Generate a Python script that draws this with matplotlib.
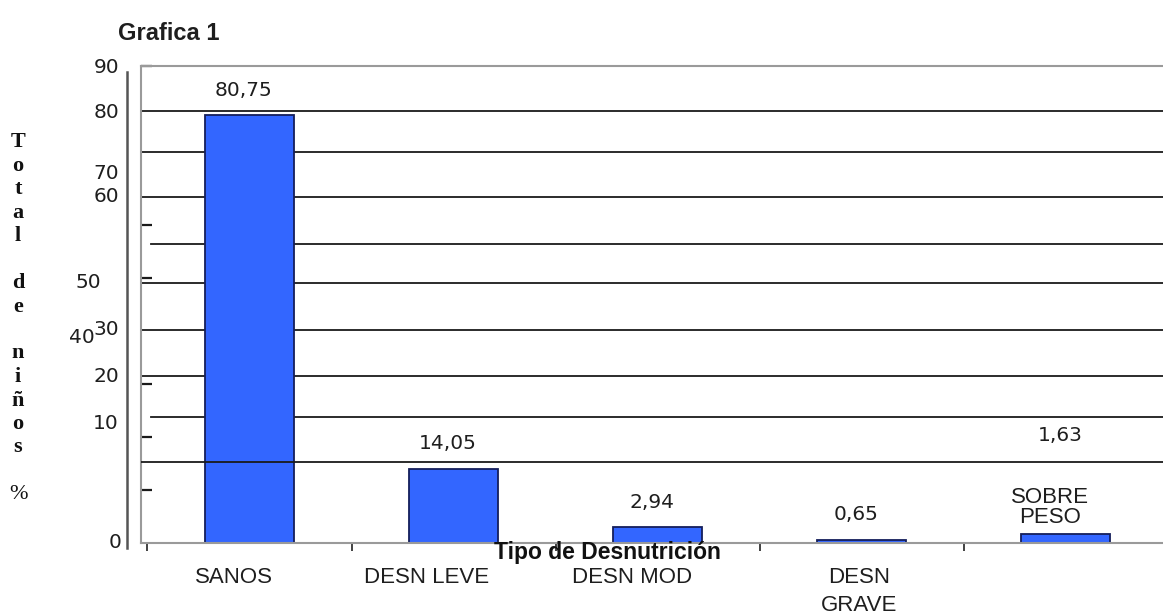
import numpy as np
import matplotlib
matplotlib.use("Agg")
import matplotlib.pyplot as plt
import matplotlib.transforms as mtransforms
from matplotlib.lines import Line2D

# ---------------- data ----------------
categories = ["SANOS", "DESN LEVE", "DESN MOD", "DESN\nGRAVE", "SOBRE\nPESO"]
values = [80.75, 14.05, 2.94, 0.65, 1.63]

# y-axis text labels as printed in the (garbled) original, and where they sit (data units)
ytick_texts = ["90", "80", "70", "60", "50", "40", "30", "20", "10", "0"]
ytick_text_y = [89.8, 81.3, 69.8, 65.3, 49.1, 38.7, 40.2, 31.5, 22.6, 0.0]
# short tick marks actually drawn on the axis
ytick_marks = [90, 60, 50, 30, 20, 10]
# horizontal rule lines as they appear in the original (data units)
grid_values = [81.5, 73.8, 65.3, 56.4, 49.1, 40.2, 31.5, 23.8, 15.3]
grid_short_start = [56.4, 23.8]
grid_over_bars = [15.3]

title = "Grafica 1"
xlabel = "Tipo de Desnutrición"
ylabel_letters = ["T", "o", "t", "a", "l", "", "d", "e", "", "n", "i", "ñ", "o", "s", "", "%"]

# ---------------- figure ----------------
W, H = 1163, 616
fig = plt.figure(figsize=(W / 100, H / 100), dpi=100)
fig.patch.set_facecolor("white")

ax_left, ax_right, ax_top, ax_bottom = 141, 1170, 66, 543
ax = fig.add_axes([ax_left / W, 1 - ax_bottom / H, (ax_right - ax_left) / W, (ax_bottom - ax_top) / H])
ax.set_facecolor("white")

cat_px0, cat_step = 249.5, 204.1
ax.set_xlim((ax_left - cat_px0) / cat_step, (ax_right - cat_px0) / cat_step)
ax.set_ylim(0, 90)

sans = ["Liberation Sans", "DejaVu Sans"]
nums = ["DejaVu Sans"]
serif = ["Liberation Serif", "DejaVu Serif"]
txtc = "#1e1e1e"

x = np.arange(len(categories))

# grid rules
short_frac = 10 / (ax_right - ax_left)
for g in grid_values:
    xmin = short_frac if g in grid_short_start else 0
    z = 3 if g in grid_over_bars else 0.5
    ax.axhline(g, xmin=xmin, xmax=1, color="#1a1a1a", lw=1.3, zorder=z)

# bars
ax.bar(x, values, width=0.436, color="#3366ff", edgecolor="#141e5a", linewidth=1.3, zorder=2)

# value labels
for i, v in enumerate(values):
    s = f"{v:.2f}".replace(".", ",")
    if i == len(values) - 1:
        ax.annotate(s, xy=(i, v), xytext=(-6, 99), textcoords="offset pixels",
                    ha="center", va="center", fontsize=14.5, family=nums, color=txtc)
        ax.annotate(categories[i], xy=(i, v), xytext=(-16, 27), textcoords="offset pixels",
                    ha="center", va="center", fontsize=16, family=sans, color=txtc,
                    linespacing=0.95)
    else:
        ax.annotate(s, xy=(i, v), xytext=(-6, 25), textcoords="offset pixels",
                    ha="center", va="center", fontsize=14.5, family=nums, color=txtc)

# spines
for side in ["left", "bottom", "top"]:
    ax.spines[side].set_color("#9a9a9a")
    ax.spines[side].set_linewidth(1.5)
ax.spines["right"].set_visible(False)

# y ticks (marks only)
ax.set_yticks(ytick_marks)
ax.tick_params(axis="y", direction="in", length=8, width=1.6, color="#1a1a1a", labelleft=False)

# x ticks: boundaries as marks
ax.set_xticks(np.arange(len(categories) + 1) - 0.5)
ax.tick_params(axis="x", which="major", direction="out", length=6, width=1.3,
               color="#333333", labelbottom=False)

# category labels (slightly displaced, as in the original)
xlabel_dx_px = [-16, -27, -26, -3]
for i, dx in enumerate(xlabel_dx_px):
    ax.annotate(categories[i], xy=(i, 0), xytext=(dx, -24), textcoords="offset pixels",
                ha="center", va="top", fontsize=16, family=sans, color=txtc,
                linespacing=1.45, annotation_clip=False)

# y tick texts at their (odd) printed positions
ytext_right_px = [119, 119, 119, 119, 101, 95, 119, 119, 119, 122]
trans = mtransforms.blended_transform_factory(fig.transFigure, ax.transData)
for t, yv, xr in zip(ytick_texts, ytick_text_y, ytext_right_px):
    ax.text(xr / W, yv, t, transform=trans, ha="right", va="center",
            fontsize=14.5, family=nums, color=txtc, clip_on=False)

# outer axis line
fig.add_artist(Line2D([127 / W, 127 / W], [1 - 72 / H, 1 - 548 / H],
                      transform=fig.transFigure, color="#555555", lw=1.8))

# title, x label, stacked y label
fig.text(118 / W, 1 - 33 / H, title, ha="left", va="center", fontsize=17,
         fontweight="bold", family=sans, color=txtc)
fig.text(607.5 / W, 1 - 552 / H, xlabel, ha="center", va="center", fontsize=16.5,
         fontweight="bold", family=sans, color="#111111", zorder=5)
y0, dy = 142, 23.5
for k, ch in enumerate(ylabel_letters):
    if ch:
        fig.text(18 / W, 1 - (y0 + k * dy) / H, ch, ha="center", va="center",
                 fontsize=16, fontweight="bold" if ch != "%" else "normal",
                 family=serif, color="#111111")

fig.savefig("out.png", dpi=100, facecolor="white")
